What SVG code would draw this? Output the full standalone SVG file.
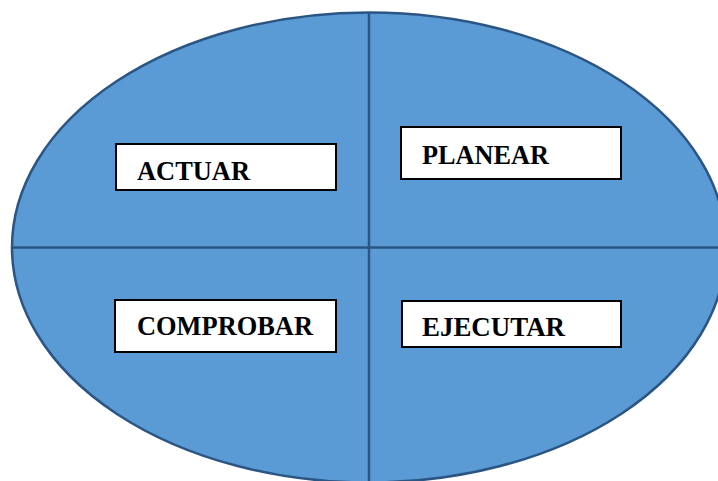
<svg xmlns="http://www.w3.org/2000/svg" width="718" height="481" viewBox="0 0 718 481">
<style>
.box{fill:#ffffff;stroke:#000000;stroke-width:2}
.lbl{font-family:"Liberation Serif","Times New Roman",serif;font-weight:bold;font-size:27px;fill:#000000}
.div{stroke:#2B5583;stroke-width:2.5;fill:none}
</style>
<rect width="718" height="481" fill="#ffffff"/>
<g id="circle">
<ellipse cx="369" cy="247.5" rx="357" ry="235" fill="#5B9BD5" stroke="#2B5583" stroke-width="2.5"/>
</g>
<g id="connectors">
<line class="div" x1="369" y1="13" x2="369" y2="481"/>
<line class="div" x1="12" y1="247.5" x2="718" y2="247.5"/>
</g>
<g id="actuar">
<rect class="box" x="116" y="144" width="220" height="46"/>
<text class="lbl" x="137" y="179.5" textLength="113" lengthAdjust="spacingAndGlyphs">ACTUAR</text>
</g>
<g id="planear">
<rect class="box" x="401" y="127" width="220" height="52"/>
<text class="lbl" x="422" y="163.5" textLength="127" lengthAdjust="spacingAndGlyphs">PLANEAR</text>
</g>
<g id="comprobar">
<rect class="box" x="115" y="300" width="221" height="52"/>
<text class="lbl" x="137" y="335" textLength="176" lengthAdjust="spacingAndGlyphs">COMPROBAR</text>
</g>
<g id="ejecutar">
<rect class="box" x="402" y="301" width="219" height="46"/>
<text class="lbl" x="422" y="336" textLength="143" lengthAdjust="spacingAndGlyphs">EJECUTAR</text>
</g>
</svg>
